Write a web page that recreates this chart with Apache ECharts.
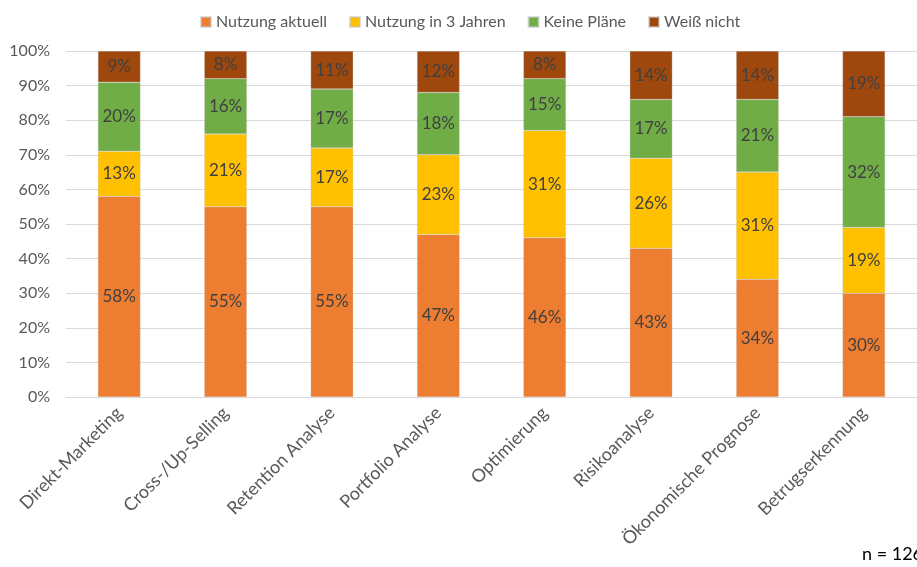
<!DOCTYPE html>
<html>
<head>
<meta charset="utf-8">
<script src="https://cdn.jsdelivr.net/npm/echarts@6/dist/echarts.min.js"></script>
<style>
  html, body { margin: 0; padding: 0; background: #fff; }
  #chart { width: 917px; height: 567px; }
</style>
</head>
<body>
<div id="chart"></div>
<script>
// Einsatzbereiche und Anteile je Antwortkategorie (in %)
const categories = ['Direkt-Marketing', 'Cross-/Up-Selling', 'Retention Analyse', 'Portfolio Analyse',
  'Optimierung', 'Risikoanalyse', 'Ökonomische Prognose', 'Betrugserkennung'];
const nutzungAktuell = [58, 55, 55, 47, 46, 43, 34, 30];
const nutzungIn3Jahren = [13, 21, 17, 23, 31, 26, 31, 19];
const keinePlaene = [20, 16, 17, 18, 15, 17, 21, 32];
const weissNicht = [9, 8, 11, 12, 8, 14, 14, 19];
const seriesNames = ['Nutzung aktuell', 'Nutzung in 3 Jahren', 'Keine Pläne', 'Weiß nicht'];
const seriesColors = ['#ED7D31', '#FFC000', '#70AD47', '#9E480E'];
const sampleNote = 'n = 126';

const FONT = 'Lato, "Open Sans", sans-serif';
const allValues = [nutzungAktuell, nutzungIn3Jahren, keinePlaene, weissNicht];

const chart = echarts.init(document.getElementById('chart'));
chart.setOption({
  animation: false,
  textStyle: { fontFamily: FONT },
  legend: {
    top: 9,
    left: 195,
    itemWidth: 10,
    itemHeight: 10,
    itemGap: 22,
    icon: 'rect',
    textStyle: { color: '#595959', fontSize: 16, fontFamily: FONT }
  },
  grid: { left: 66, right: -3, top: 51, bottom: 170, containLabel: false },
  xAxis: {
    type: 'category',
    data: categories,
    axisLine: { lineStyle: { color: '#d9d9d9' } },
    axisTick: { show: false },
    axisLabel: {
      rotate: 45,
      interval: 0,
      margin: 13,
      color: '#595959',
      fontSize: 18,
      fontFamily: FONT
    }
  },
  yAxis: {
    type: 'value',
    min: 0,
    max: 100,
    interval: 10,
    axisLabel: {
      formatter: '{value}%',
      color: '#595959',
      fontSize: 16,
      margin: 16,
      fontFamily: FONT
    },
    splitLine: { lineStyle: { color: '#d9d9d9', width: 1 } },
    axisLine: { show: false },
    axisTick: { show: false }
  },
  series: seriesNames.map((name, i) => ({
    name: name,
    type: 'bar',
    stack: 'total',
    barWidth: '40%',
    data: allValues[i],
    itemStyle: { color: seriesColors[i], borderColor: 'rgba(200,200,200,0.6)', borderWidth: 0.5 },
    label: {
      show: true,
      position: 'inside',
      formatter: '{c}%',
      color: '#404040',
      fontSize: 17,
      fontFamily: FONT
    }
  })),
  graphic: [{
    type: 'text',
    left: 862,
    top: 545,
    style: { text: sampleNote, fill: '#000', fontSize: 18, fontFamily: FONT }
  }]
});
</script>
</body>
</html>
